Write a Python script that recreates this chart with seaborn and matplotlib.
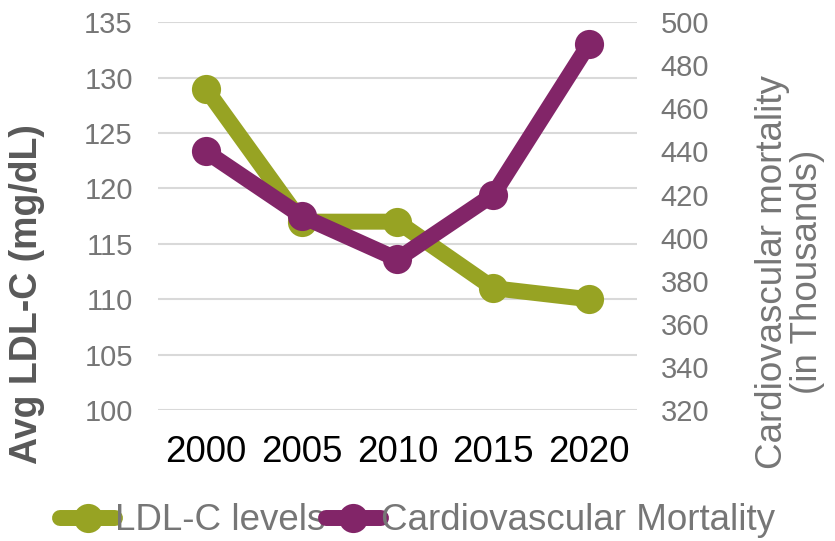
"""LDL-C levels vs cardiovascular mortality, 2000-2020."""

import matplotlib

matplotlib.use("Agg")
import matplotlib.pyplot as plt
import pandas as pd
import seaborn as sns

years = [2000, 2005, 2010, 2015, 2020]
ldl_levels = [129, 117, 117, 111, 110]
cv_mortality = [440, 410, 390, 420, 490]

ldl_ticks = [100, 105, 110, 115, 120, 125, 130, 135]
mort_ticks = [320, 340, 360, 380, 400, 420, 440, 460, 480, 500]

OLIVE = "#97A323"
PURPLE = "#822568"
TICK_GREY = "#767676"

sns.set_style("white")
plt.rcParams["font.family"] = ["Liberation Sans", "DejaVu Sans"]

df = pd.DataFrame({"year": years, "ldl": ldl_levels, "mortality": cv_mortality})

fig = plt.figure(figsize=(8.35, 5.41), dpi=100)
ax = fig.add_axes([0.189, 0.242, 0.574, 0.717])
ax2 = ax.twinx()

line_kw = dict(linewidth=11.5, marker="o", markersize=21, markeredgewidth=0,
               solid_capstyle="round", solid_joinstyle="round")
sns.lineplot(data=df, x="year", y="ldl", ax=ax, color=OLIVE,
             label="LDL-C levels", legend=False, **line_kw)
sns.lineplot(data=df, x="year", y="mortality", ax=ax2, color=PURPLE,
             label="Cardiovascular Mortality", legend=False, **line_kw)

ax.set_xlim(1997.5, 2022.5)
ax.set_xticks(years)
ax.set_xticklabels([str(y) for y in years])
ax.set_ylim(100, 135)
ax.set_yticks(ldl_ticks)
ax2.set_ylim(320, 500)
ax2.set_yticks(mort_ticks)

ax.grid(axis="y", color="#D9D9D9", linewidth=1.5)
ax.set_axisbelow(True)
for a in (ax, ax2):
    for s in a.spines.values():
        s.set_visible(False)
    a.tick_params(length=0)

ax.tick_params(axis="x", labelsize=26.5, labelcolor="black", pad=18)
ax.tick_params(axis="y", labelsize=21, labelcolor=TICK_GREY, pad=18)
ax2.tick_params(axis="y", labelsize=21, labelcolor=TICK_GREY, pad=17)

ax.set_xlabel("")
ax.set_ylabel("Avg LDL-C (mg/dL)", fontsize=27, fontweight="bold",
              color="#595959")
ax.yaxis.set_label_coords(-0.236, 0.30)
ax2.set_ylabel("Cardiovascular mortality\n(in Thousands)", fontsize=26.5,
               color=TICK_GREY, linespacing=1.0)
ax2.yaxis.set_label_coords(1.246, 0.356)

handles = ax.get_lines()[:1] + ax2.get_lines()[:1]
fig.legend(handles, [h.get_label() for h in handles], loc="center",
           bbox_to_anchor=(0.5, 0.037), ncol=2, frameon=False, fontsize=26.5,
           handlelength=1.5, handletextpad=0.0, columnspacing=0.0,
           labelcolor=TICK_GREY, borderpad=0)

fig.savefig("out.png", dpi=100)
